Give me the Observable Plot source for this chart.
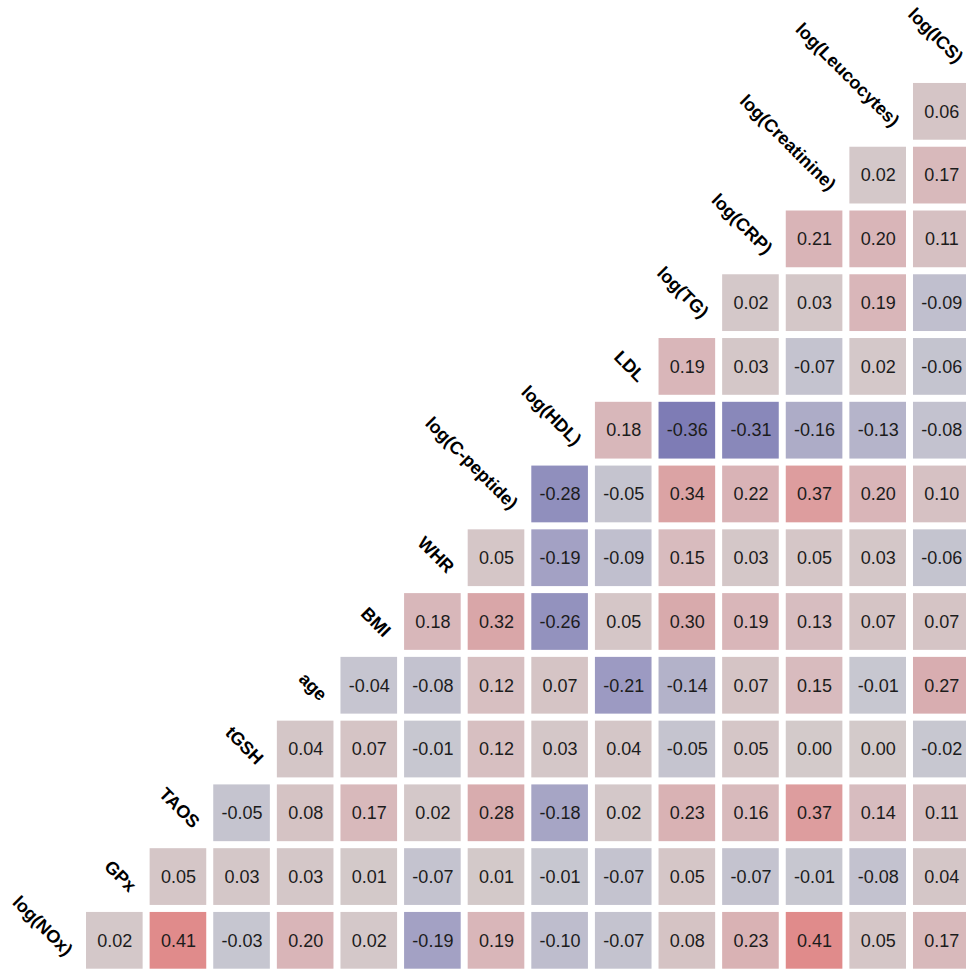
<!DOCTYPE html>
<html>
<head>
<meta charset="utf-8">
<script src="https://cdn.jsdelivr.net/npm/d3@7"></script>
<script src="https://cdn.jsdelivr.net/npm/@observablehq/plot@0.6"></script>
<style>
  html, body { margin: 0; padding: 0; background: #fff; overflow: hidden; }
</style>
</head>
<body>
<div id="chart"></div>
<script>
// Variables, in matrix order (bottom row / left column first)
const variables = [
  "log(NOx)", "GPx", "TAOS", "tGSH", "age", "BMI", "WHR", "log(C-peptide)",
  "log(HDL)", "LDL", "log(TG)", "log(CRP)", "log(Creatinine)", "log(Leucocytes)", "log(ICS)"
];

// Pearson correlations of each variable with every variable listed after it
const corNOx        = [0.02, 0.41, -0.03, 0.20, 0.02, -0.19, 0.19, -0.10, -0.07, 0.08, 0.23, 0.41, 0.05, 0.17];
const corGPx        = [0.05, 0.03, 0.03, 0.01, -0.07, 0.01, -0.01, -0.07, 0.05, -0.07, -0.01, -0.08, 0.04];
const corTAOS       = [-0.05, 0.08, 0.17, 0.02, 0.28, -0.18, 0.02, 0.23, 0.16, 0.37, 0.14, 0.11];
const corTGSH       = [0.04, 0.07, -0.01, 0.12, 0.03, 0.04, -0.05, 0.05, 0.00, 0.00, -0.02];
const corAge        = [-0.04, -0.08, 0.12, 0.07, -0.21, -0.14, 0.07, 0.15, -0.01, 0.27];
const corBMI        = [0.18, 0.32, -0.26, 0.05, 0.30, 0.19, 0.13, 0.07, 0.07];
const corWHR        = [0.05, -0.19, -0.09, 0.15, 0.03, 0.05, 0.03, -0.06];
const corCPeptide   = [-0.28, -0.05, 0.34, 0.22, 0.37, 0.20, 0.10];
const corHDL        = [0.18, -0.36, -0.31, -0.16, -0.13, -0.08];
const corLDL        = [0.19, 0.03, -0.07, 0.02, -0.06];
const corTG         = [0.02, 0.03, 0.19, -0.09];
const corCRP        = [0.21, 0.20, 0.11];
const corCreatinine = [0.02, 0.17];
const corLeucocytes = [0.06];

const rowValues = [
  corNOx, corGPx, corTAOS, corTGSH, corAge, corBMI, corWHR,
  corCPeptide, corHDL, corLDL, corTG, corCRP, corCreatinine, corLeucocytes
];

// Long table: one record per cell of the triangle
const cells = rowValues.flatMap((vals, i) =>
  vals.map((r, k) => ({row: variables[i], col: variables[i + 1 + k], r}))
);

// Diverging fill: muted blue for negative, muted red for positive
const colorDomain = [-0.36, -0.28, -0.21, -0.15, -0.08, -0.001, 0, 0.1, 0.2, 0.3, 0.37, 0.41];
const colorRange  = ["#7e7cb5", "#908fbd", "#9c9ac2", "#b0afc8", "#c3c2cf", "#c8c8d0",
                     "#d3caca", "#d6c1c3", "#d9b5b8", "#d8aaac", "#dd9d9e", "#e08b8b"];

const font = "'Liberation Sans', Arial, Helvetica, sans-serif";

const chart = Plot.plot({
  width: 966,
  height: 971,
  margin: 0,
  style: {fontFamily: font, background: "white"},
  x: {type: "band", domain: variables, range: [22.4, 969.6], paddingInner: 0.11, paddingOuter: 0, round: false, axis: null},
  y: {type: "band", domain: variables.slice().reverse(), range: [19.2, 968.7], paddingInner: 0.11, paddingOuter: 0, round: false, axis: null},
  color: {type: "linear", domain: colorDomain, range: colorRange, interpolate: "rgb"},
  marks: [
    Plot.cell(cells, {x: "col", y: "row", fill: "r"}),
    Plot.text(cells, {
      x: "col", y: "row",
      text: (d) => d.r.toFixed(2),
      fontSize: 18, fontFamily: font, fill: "#1c1c1c"
    }),
    Plot.text(variables, {
      x: (d) => d, y: (d) => d, text: (d) => d,
      rotate: 45, textAnchor: "end", dx: 18, dy: 12,
      fontSize: 18, fontWeight: "bold", fontFamily: font, fill: "#000"
    })
  ]
});

document.getElementById("chart").appendChild(chart);
</script>
</body>
</html>
